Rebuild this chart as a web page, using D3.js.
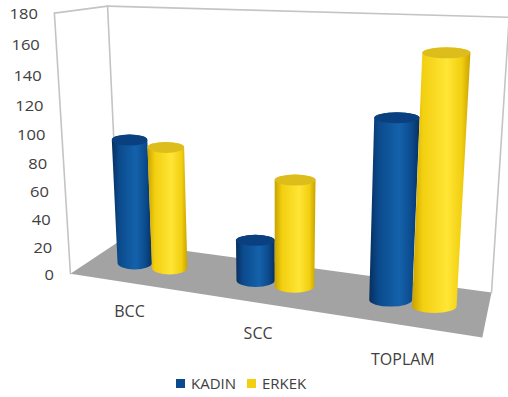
<!DOCTYPE html>
<html><head><meta charset="utf-8">
<script src="https://cdn.jsdelivr.net/npm/d3@7/dist/d3.min.js"></script>
<style>
  html, body { margin: 0; padding: 0; background: #fff; }
  svg { display: block; font-family: "Open Sans", "Liberation Sans", sans-serif; }
</style>
</head><body>
<svg id="chart" width="508" height="397"></svg>
<script>
// ---- data ----
const categories = ["BCC", "SCC", "TOPLAM"];
const seriesNames = ["KADIN", "ERKEK"];
const kadin = [91, 29, 120];
const erkek = [88, 74, 161];
const yTicks = [0, 20, 40, 60, 80, 100, 120, 140, 160, 180];
const yMax = 180;

// ---- look ----
const seriesColors = {
  KADIN: { dark: "#072f5e", mid: "#0b4a8c", light: "#1462ab", top: "#0a4080" },
  ERKEK: { dark: "#c9a300", mid: "#f2cf10", light: "#ffe535", top: "#dcbd1c" }
};

const svg = d3.select("#chart");

// Box of the 3D plot in unit coordinates: x across categories, v up (value / max),
// z into the page. The frame is laid out by where these corners land on screen.
const frame = [
  [[0, 0, 0], [72, 272.5]], [[1, 0, 0], [482, 339]],
  [[0, 0, 1], [117, 243]],  [[1, 0, 1], [492, 291]],
  [[0, 1, 1], [109, 6]],    [[1, 1, 1], [509, 17.5]],
  [[0, 1, 0], [53, 13]]
];

// Least-squares fit of a 3x4 perspective camera to the frame corners.
function solveLinear(A, b) {
  const n = b.length;
  const M = A.map((r, i) => [...r, b[i]]);
  for (let i = 0; i < n; i++) {
    let m = i;
    for (let k = i + 1; k < n; k++) if (Math.abs(M[k][i]) > Math.abs(M[m][i])) m = k;
    [M[i], M[m]] = [M[m], M[i]];
    for (let k = 0; k < n; k++) if (k !== i) {
      const f = M[k][i] / M[i][i];
      for (let j = i; j <= n; j++) M[k][j] -= f * M[i][j];
    }
  }
  return M.map((r, i) => r[n] / r[i]);
}
function fitCamera(pairs) {
  const rows = [], rhs = [];
  pairs.forEach(([[X, Y, Z], [u, v]]) => {
    rows.push([X, Y, Z, 1, 0, 0, 0, 0, -u * X, -u * Y, -u * Z]); rhs.push(u);
    rows.push([0, 0, 0, 0, X, Y, Z, 1, -v * X, -v * Y, -v * Z]); rhs.push(v);
  });
  const n = 11;
  const AtA = d3.range(n).map(i => d3.range(n).map(j => d3.sum(rows, r => r[i] * r[j])));
  const Atb = d3.range(n).map(i => d3.sum(rows, (r, k) => r[i] * rhs[k]));
  return solveLinear(AtA, Atb);
}
const P = fitCamera(frame);
function project(X, V, Z) {
  const w = P[8] * X + P[9] * V + P[10] * Z + 1;
  return [(P[0] * X + P[1] * V + P[2] * Z + P[3]) / w,
          (P[4] * X + P[5] * V + P[6] * Z + P[7]) / w];
}

// D3 scales into the unit box
const xBand = d3.scaleBand().domain(categories).range([0, 1]);
const xSeries = d3.scaleBand().domain(seriesNames).range([-0.1, 0.1]);
const vScale = d3.scaleLinear().domain([0, yMax]).range([0, 1]);
const depth = 0.49;       // cylinders stand in the middle of the floor
const radius = 0.05;      // half of a column's width, in x units

// ---- floor ----
const floorPts = [[0, 0, 0], [1, 0, 0], [1, 0, 1], [0, 0, 1]].map(p => project(...p));
svg.append("path")
  .attr("d", "M" + floorPts.map(p => p.join(",")).join("L") + "Z")
  .attr("fill", "#a3a3a3");

// ---- walls (outlined only) ----
const wallEdges = [
  [[0, 0, 0], [0, 1, 0]], [[0, 1, 0], [0, 1, 1]], [[0, 1, 1], [0, 0, 1]],
  [[0, 1, 1], [1, 1, 1]], [[1, 1, 1], [1, 0, 1]]
];
const walls = svg.append("g")
  .attr("fill", "none").attr("stroke", "#c4c4c4").attr("stroke-width", 1.6)
  .attr("stroke-linecap", "round");
wallEdges.forEach(([a, b]) => {
  const p = project(...a), q = project(...b);
  walls.append("line").attr("x1", p[0]).attr("y1", p[1]).attr("x2", q[0]).attr("y2", q[1]);
});

// ---- value axis labels along the front-left edge ----
const yAxis = svg.append("g").attr("font-size", 15).attr("fill", "#404040").attr("text-anchor", "end");
yTicks.forEach(t => {
  const [x, y] = project(0, vScale(t), 0);
  yAxis.append("text")
    .attr("transform", `translate(${x - 16.5},${y + 6.3}) scale(1.1,1)`)
    .text(t);
});

// ---- gradients for the cylinder bodies ----
const defs = svg.append("defs");
seriesNames.forEach(s => {
  const c = seriesColors[s];
  const g = defs.append("linearGradient").attr("id", "grad-" + s)
    .attr("x1", 0).attr("x2", 1).attr("y1", 0).attr("y2", 0);
  [[0, c.dark], [0.18, c.mid], [0.6, c.light], [0.85, c.mid], [1, c.dark]]
    .forEach(([o, col]) => g.append("stop").attr("offset", o).attr("stop-color", col));
});

// ---- cylinders ----
const rows = categories.map((cat, i) => ({ cat, values: { KADIN: kadin[i], ERKEK: erkek[i] } }));
const ryTop = 5.5, ryBottom = 6.5;
const bars = svg.append("g");
rows.forEach(row => {
  seriesNames.forEach(s => {
    const xc = xBand(row.cat) + xBand.bandwidth() / 2 + xSeries(s) + xSeries.bandwidth() / 2;
    const v = vScale(row.values[s]);
    const bl = project(xc - radius, 0, depth), br = project(xc + radius, 0, depth);
    const tl = project(xc - radius, v, depth), tr = project(xc + radius, v, depth);
    const b = [(bl[0] + br[0]) / 2, (bl[1] + br[1]) / 2];
    const t = [(tl[0] + tr[0]) / 2, (tl[1] + tr[1]) / 2];
    const rb = (br[0] - bl[0]) / 2, rt = (tr[0] - tl[0]) / 2;
    const body = `M${t[0] - rt},${t[1]} L${b[0] - rb},${b[1]} ` +
      `A${rb},${ryBottom} 0 0 0 ${b[0] + rb},${b[1]} ` +
      `L${t[0] + rt},${t[1]} A${rt},${ryTop} 0 0 0 ${t[0] - rt},${t[1]} Z`;
    bars.append("path").attr("d", body).attr("fill", `url(#grad-${s})`);
    bars.append("ellipse").attr("cx", t[0]).attr("cy", t[1]).attr("rx", rt).attr("ry", ryTop)
      .attr("fill", seriesColors[s].top);
  });
});

// ---- category labels in front of the floor ----
const xAxis = svg.append("g").attr("font-size", 16).attr("fill", "#404040").attr("text-anchor", "middle");
categories.forEach(cat => {
  const xc = xBand(cat) + xBand.bandwidth() / 2;
  const x = project(xc, 0, 0)[0];
  const y = project(xc, 0, -0.5)[1];
  xAxis.append("text").attr("x", x).attr("y", y + 14).text(cat);
});

// ---- legend ----
const legend = svg.append("g").attr("font-size", 15).attr("fill", "#404040");
const legendItems = [{ name: "KADIN", x: 176 }, { name: "ERKEK", x: 247 }];
legendItems.forEach(it => {
  legend.append("rect").attr("x", it.x).attr("y", 379).attr("width", 9).attr("height", 9)
    .attr("fill", seriesColors[it.name].mid);
  legend.append("text").attr("x", it.x + 15).attr("y", 389).text(it.name);
});
</script></body></html>
